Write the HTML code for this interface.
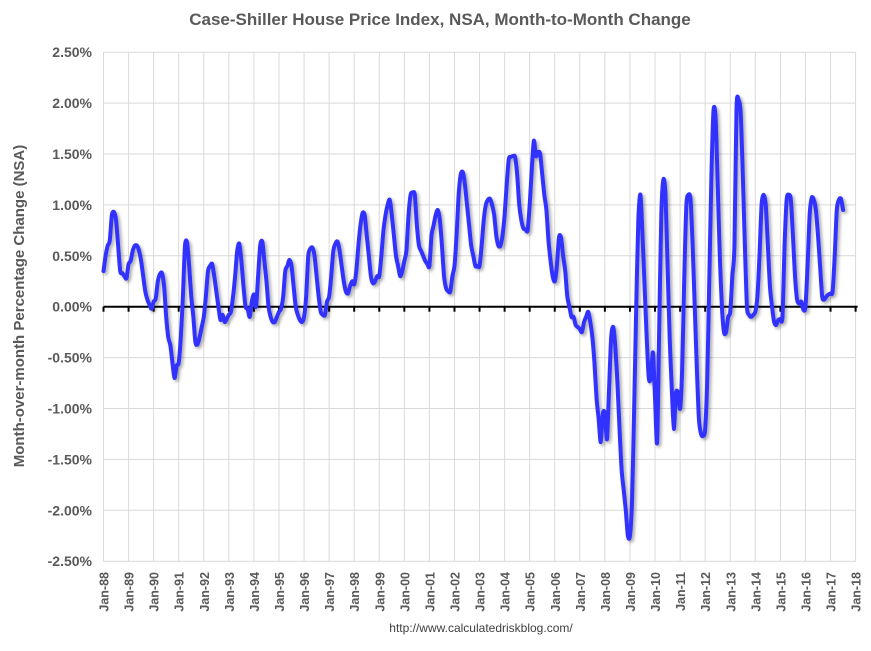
<!DOCTYPE html>
<html><head><meta charset="utf-8">
<style>
html,body{margin:0;padding:0;background:#fff;}
svg{display:block;font-family:"Liberation Sans",sans-serif;}
</style></head>
<body>
<svg id="chart" width="871" height="651" viewBox="0 0 871 651" xmlns="http://www.w3.org/2000/svg">
<defs>
<filter id="sh" x="-5%" y="-5%" width="110%" height="110%">
<feDropShadow dx="2" dy="2" stdDeviation="1.5" flood-color="#000" flood-opacity="0.35"/>
</filter>
</defs>
<text x="440" y="25" text-anchor="middle" font-size="17" font-weight="bold" fill="#595959">Case-Shiller House Price Index, NSA, Month-to-Month Change</text>
<text transform="translate(24,306) rotate(-90)" text-anchor="middle" font-size="15" font-weight="bold" fill="#595959">Month-over-month Percentage Change (NSA)</text>
<text x="481" y="632" text-anchor="middle" font-size="12" fill="#404040">http://www.calculatedriskblog.com/</text>
<g id="grid"></g>
<g id="axes"></g>
<g id="series"></g>
</svg>
<script>
const yTicks = [2.5, 2.0, 1.5, 1.0, 0.5, 0.0, -0.5, -1.0, -1.5, -2.0, -2.5];
const yTickLabels = ["2.50%","2.00%","1.50%","1.00%","0.50%","0.00%","-0.50%","-1.00%","-1.50%","-2.00%","-2.50%"];
const xYears = [88,89,90,91,92,93,94,95,96,97,98,99,0,1,2,3,4,5,6,7,8,9,10,11,12,13,14,15,16,17,18];
const values1988_1997 = [
 .35,.5,.6,.65,.9,.93,.85,.6,.35,.33,.3,.28,
 .42,.45,.55,.6,.6,.55,.45,.3,.15,.07,.02,-.02,
 .05,.08,.25,.32,.33,.2,-.1,-.3,-.38,-.55,-.7,-.58,
 -.55,-.3,.1,.6,.63,.4,.1,-.1,-.35,-.37,-.3,-.2,
 -.1,.1,.35,.4,.42,.3,.15,0,-.13,-.08,-.15,-.12,
 -.08,-.05,.1,.3,.55,.62,.45,.2,0,-.02,-.1,.05,
 .12,0,.3,.6,.64,.45,.25,0,-.1,-.15,-.15,-.1,
 -.05,-.02,.1,.35,.4,.46,.4,.2,0,-.08,-.13,-.15,
 -.1,.1,.5,.57,.58,.5,.3,.1,-.05,-.08,-.08,.05,
 .1,.3,.55,.62,.64,.55,.4,.25,.15,.13,.2,.25
];
const values1998_2007 = [
 .22,.35,.6,.8,.92,.9,.7,.5,.3,.23,.25,.3,
 .3,.5,.75,.9,1.0,1.05,.9,.7,.5,.4,.3,.35,
 .45,.55,.9,1.1,1.12,1.1,.8,.6,.55,.5,.45,.42,
 .4,.7,.8,.9,.95,.85,.6,.3,.18,.15,.15,.3,
 .4,.7,1.1,1.3,1.32,1.2,1.0,.8,.6,.5,.4,.4,
 .4,.6,.85,1.0,1.05,1.06,1.0,.9,.7,.6,.6,.7,
 .9,1.2,1.45,1.47,1.48,1.47,1.3,1.0,.85,.77,.76,.75,
 1.0,1.35,1.63,1.48,1.52,1.5,1.3,1.1,.95,.65,.45,.3,
 .25,.4,.68,.68,.5,.35,.1,0,-.1,-.1,-.18,-.2,
 -.22,-.25,-.15,-.1,-.05,-.15,-.3,-.55,-.9,-1.1,-1.33,-1.05
];
const values2008_2017 = [
 -1.05,-1.3,-.8,-.3,-.2,-.4,-.75,-1.2,-1.6,-1.8,-2.0,-2.25,
 -2.25,-1.9,-1.0,0,.85,1.1,.7,.2,-.3,-.7,-.7,-.45,
 -.9,-1.33,-.2,.9,1.25,1.1,.4,-.3,-.8,-1.2,-.85,-.85,
 -1.0,-.6,.3,1.0,1.1,1.05,.6,0,-.6,-1.1,-1.25,-1.27,
 -1.2,-.7,.3,1.3,1.93,1.85,1.2,.5,0,-.25,-.25,-.1,
 -.05,.3,.6,1.95,2.03,1.9,1.3,.6,0,-.08,-.1,-.08,
 -.05,.1,.5,1.0,1.1,1.0,.6,.2,0,-.15,-.18,-.13,
 -.12,-.1,.6,1.05,1.1,1.05,.7,.3,.07,.03,.05,-.03,
 0,.4,.9,1.07,1.05,.95,.7,.4,.1,.07,.1,.12,
 .13,.15,.5,.95,1.05,1.06,.95
];
const values = values1988_1997.concat(values1998_2007, values2008_2017);

const X0 = 103.5, PXY = 25.07, Y0 = 306.7, PXV = 101.8;
function xScale(yearsFromStart){ return X0 + yearsFromStart*PXY; }
function yScale(v){ return Y0 - v*PXV; }
const NS = "http://www.w3.org/2000/svg";
function mk(tag, attrs, parent){ const e=document.createElementNS(NS,tag); for(const k in attrs) e.setAttribute(k,attrs[k]); parent.appendChild(e); return e; }
const gridG=document.getElementById('grid'), axesG=document.getElementById('axes'), seriesG=document.getElementById('series');
const plotTop=yScale(2.5), plotBot=yScale(-2.5), plotRight=xScale(30);

yTicks.forEach((t,i)=>{
  const y=yScale(t);
  if(t!==0){
    const g=mk('line',{x1:X0,x2:plotRight,y1:y,y2:y,stroke:'#d9d9d9','stroke-width':1},gridG);
    
    
  }
  const tx=mk('text',{x:92,y:y+5,'text-anchor':'end','font-size':14,'font-weight':'bold',fill:'#595959'},axesG);
  tx.textContent=yTickLabels[i];
  
  
});
xYears.forEach((yy,i)=>{
  const x=xScale(i);
  const g=mk('line',{x1:x,x2:x,y1:plotTop,y2:plotBot,stroke:'#d9d9d9','stroke-width':1},gridG);
  
  
  const tk=mk('line',{x1:x,x2:x,y1:Y0,y2:Y0+5,stroke:'#000','stroke-width':2},axesG);
  
  
  const lab='Jan-'+String(yy).padStart(2,'0');
  const tx=mk('text',{transform:'translate('+(x+5)+',572) rotate(-90)','text-anchor':'end','font-size':12.5,'font-weight':'bold',fill:'#595959'},axesG);
  tx.textContent=lab;
  
  
});
const zl=mk('line',{x1:X0,x2:plotRight+2,y1:Y0,y2:Y0,stroke:'#000','stroke-width':2},axesG);



const P=values.map((v,i)=>[xScale(i/12), yScale(v)]);
let d='M'+P[0][0].toFixed(2)+','+P[0][1].toFixed(2);
for(let i=0;i<P.length-1;i++){
  const p0=P[Math.max(0,i-1)], p1=P[i], p2=P[i+1], p3=P[Math.min(P.length-1,i+2)];
  const t=1/6*0.8;
  const c1=[p1[0]+(p2[0]-p0[0])*t, p1[1]+(p2[1]-p0[1])*t];
  const c2=[p2[0]-(p3[0]-p1[0])*t, p2[1]-(p3[1]-p1[1])*t];
  d+=' C'+c1[0].toFixed(2)+','+c1[1].toFixed(2)+' '+c2[0].toFixed(2)+','+c2[1].toFixed(2)+' '+p2[0].toFixed(2)+','+p2[1].toFixed(2);
}
const pl=mk('path',{d:d,fill:'none',stroke:'#3333ff','stroke-width':4,'stroke-linejoin':'round','stroke-linecap':'round',filter:'url(#sh)'},seriesG);


</script>
</body></html>
